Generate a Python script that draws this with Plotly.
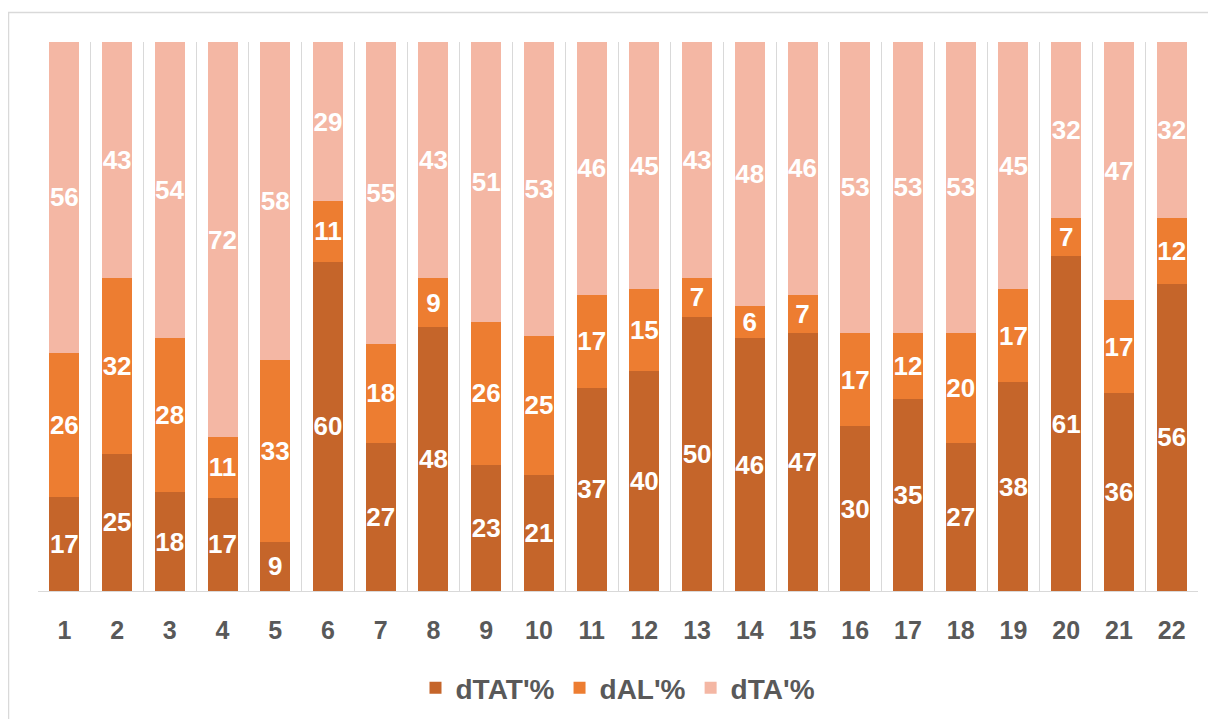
import plotly.graph_objects as go

categories = [str(i) for i in range(1, 23)]
dTAT = [17, 25, 18, 17, 9, 60, 27, 48, 23, 21, 37, 40, 50, 46, 47, 30, 35, 27, 38, 61, 36, 56]
dAL = [26, 32, 28, 11, 33, 11, 18, 9, 26, 25, 17, 15, 7, 6, 7, 17, 12, 20, 17, 7, 17, 12]
dTA = [56, 43, 54, 72, 58, 29, 55, 43, 51, 53, 46, 45, 43, 48, 46, 53, 53, 53, 45, 32, 47, 32]
series = [("dTAT'%", dTAT, "#C5652A"), ("dAL'%", dAL, "#ED7D31"), ("dTA'%", dTA, "#F4B7A4")]

FONT = "Liberation Sans, Arial"
fig = go.Figure()
for name, vals, col in series:
    fig.add_trace(go.Bar(
        x=categories, y=vals, name=name, marker=dict(color=col, line=dict(width=0)),
        text=vals, textposition="inside", insidetextanchor="middle", textangle=0,
        texttemplate="%{text}", constraintext="none",
        textfont=dict(color="white", size=26, family=FONT, weight="bold"),
        hoverinfo="skip",
    ))

# page has an 8px body margin; work in page pixel coordinates
OFF = 8
W, H = 1216 - OFF, 719 - OFF
PL, PR, PT, PB = 38, 1198, 42, 591  # plot area in page px
L, T = PL - OFF, PT - OFF
R, B = W - (PR - OFF), H - (PB - OFF)
pw, ph = PR - PL, PB - PT

def px(x):
    return (x - PL) / pw

def py(y):
    return (PB - y) / ph

fig.update_layout(
    width=W, height=H, barmode="stack", barnorm="percent", bargap=0.43,
    margin=dict(l=L, r=R, t=T, b=B, autoexpand=False),
    paper_bgcolor="white", plot_bgcolor="white",
    showlegend=True,
    legend=dict(orientation="h", x=0.5, xanchor="center", y=py(688), yanchor="middle",
                font=dict(size=28, color="#595959", family=FONT, weight="bold"),
                itemwidth=30, traceorder="normal"),
    xaxis=dict(type="category", tickson="boundaries", showgrid=True, gridcolor="#D9D9D9", gridwidth=1,
               showline=True, linecolor="#D9D9D9", linewidth=1, ticks="", ticklabelstandoff=17,
               tickfont=dict(size=25, color="#595959", family=FONT, weight="bold"),
               zeroline=False, fixedrange=True),
    yaxis=dict(visible=False, range=[0, 100], showgrid=False, zeroline=False),
    shapes=[dict(type="rect", xref="paper", yref="paper", x0=px(8.5), x1=px(1230), y0=py(740), y1=py(12.5),
                 line=dict(color="#D9D9D9", width=1.5), fillcolor="rgba(0,0,0,0)", layer="below")],
)
fig.write_html("out.html")
